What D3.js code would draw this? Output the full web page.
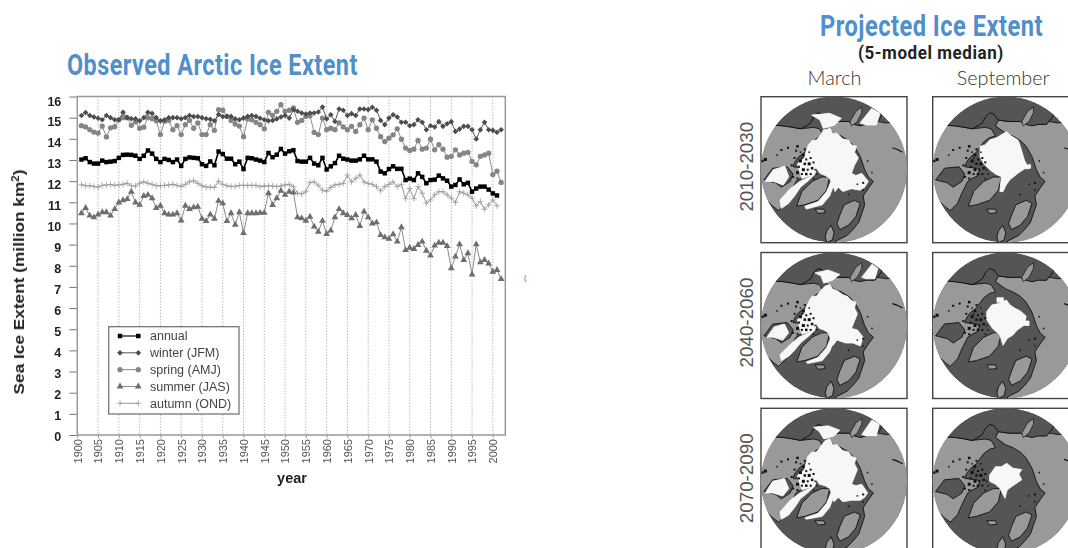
<!DOCTYPE html>
<html>
<head>
<meta charset="utf-8">
<script src="https://cdnjs.cloudflare.com/ajax/libs/d3/7.8.5/d3.min.js"></script>
<style>
    body { margin: 0; background: #fff; overflow: hidden; }
    svg { display: block; }
    text { font-family: "Liberation Sans", Arial, sans-serif; }
</style>
</head>
<body>
<div id="chart"></div>
<script>
// yearly values, all series start in 1901
const firstYear = 1901;
const annual = [13.02,13.08,12.9,12.83,12.83,12.97,12.9,12.92,12.95,
    13.1,13.24,13.25,13.24,13.2,13.05,13.2,13.45,13.3,13.05,
    12.9,13.05,13.0,12.9,13.02,12.72,13.05,13.12,13.1,13.08,
    12.8,12.72,12.93,12.75,13.4,13.28,13.06,13.06,12.8,12.92,
    12.57,13.1,13.08,13.02,12.97,12.9,13.33,13.13,13.25,13.52,
    13.3,13.41,13.46,12.95,12.92,12.92,13.1,12.83,12.75,13.1,
    12.55,12.7,12.85,13.2,13.06,13.02,12.97,12.97,13.03,13.2,
    13.03,13.03,12.92,12.45,12.37,12.57,12.7,12.58,12.58,12.05,
    12.12,12.05,12.37,12.2,11.9,12.05,12.07,12.26,12.13,12.02,
    11.74,11.82,12.08,11.85,11.92,11.5,11.65,11.74,11.74,11.6,
    11.42,11.32];
const winter = [15.1,15.24,15.1,15.03,14.97,14.9,15.1,15.0,14.9,
    14.9,15.25,15.0,14.95,14.95,14.85,15.0,15.25,15.2,15.0,
    14.85,14.9,15.0,15.0,15.0,14.95,15.0,15.1,15.05,15.05,
    15.0,14.95,14.92,14.85,15.15,15.05,15.06,15.06,14.94,14.9,
    14.98,15.06,15.1,15.06,14.97,14.9,14.85,14.87,14.94,15.03,
    15.1,14.98,15.38,15.3,15.22,15.17,15.22,15.22,15.27,15.5,
    14.94,15.14,14.82,15.41,15.35,15.1,15.19,15.1,15.41,15.41,
    15.38,15.49,15.35,14.87,14.67,14.98,15.14,15.03,14.78,14.78,
    14.62,14.67,14.9,14.78,14.43,14.62,14.56,14.81,14.59,14.71,
    14.81,14.35,14.46,14.59,14.59,14.43,13.99,14.43,14.78,14.43,
    14.4,14.31,14.43];
const spring = [14.62,14.56,14.43,14.32,14.27,14.6,14.09,14.52,14.57,
    14.9,15.0,15.0,14.64,14.8,14.5,14.55,15.0,14.95,14.85,
    14.2,14.83,14.87,14.43,14.62,14.2,14.67,14.87,14.5,14.75,
    14.2,14.2,14.67,14.4,15.38,15.35,15.06,14.87,14.7,14.6,
    14.1,14.94,14.9,14.78,14.67,14.47,15.25,15.11,15.3,15.61,
    15.3,15.35,15.46,14.78,14.87,15.06,15.09,14.3,14.2,14.98,
    14.43,14.5,14.43,14.75,14.56,14.43,14.59,14.35,14.67,14.98,
    14.43,14.9,14.5,14.1,13.87,14.03,14.19,14.47,13.98,13.56,
    13.45,13.51,13.92,13.51,13.56,13.98,13.48,13.72,13.51,13.13,
    13.17,13.48,13.24,13.32,13.36,12.93,12.77,13.17,13.24,13.32,
    12.31,12.47,11.94];
const summer = [10.48,10.73,10.37,10.29,10.42,10.53,10.53,10.37,10.68,
    10.99,11.1,11.15,11.5,10.99,10.88,11.3,11.35,11.19,10.73,
    10.84,10.48,10.42,10.42,10.48,10.14,10.84,10.68,10.76,10.79,
    10.22,10.11,10.42,10.22,11.07,10.95,10.11,10.48,9.94,10.53,
    9.55,10.48,10.48,10.48,10.5,10.5,11.43,10.87,11.19,11.54,
    11.35,11.5,11.46,10.29,10.24,10.13,10.32,9.85,9.61,10.12,
    9.5,9.66,10.29,10.68,10.48,10.4,10.24,10.4,9.88,10.56,
    10.29,10.0,10.05,9.45,9.34,9.27,9.49,9.14,9.82,8.74,
    8.85,8.79,8.98,9.14,8.71,8.48,8.95,9.09,9.09,8.93,
    7.88,8.43,9.01,8.27,8.59,7.59,9.01,8.16,8.27,8.11,
    7.72,7.8,7.37];
const autumn = [11.83,11.78,11.78,11.75,11.72,11.8,11.82,11.84,11.8,
    11.82,11.85,11.9,11.78,11.77,11.9,11.97,11.9,11.85,11.78,
    11.78,11.8,11.82,11.85,11.8,11.75,11.85,11.97,12.02,11.9,
    11.78,11.72,11.72,11.7,12.0,11.85,11.78,11.75,11.75,11.8,
    11.8,11.8,11.8,11.8,11.74,11.77,11.77,11.77,11.74,11.77,
    11.82,11.85,11.74,11.43,11.4,11.5,11.93,11.96,11.8,11.57,
    11.52,11.7,11.82,11.85,11.89,12.29,11.96,12.13,12.29,11.96,
    11.89,11.85,11.74,11.54,11.74,11.85,11.96,11.74,11.85,11.17,
    11.65,11.17,11.74,11.43,10.96,11.11,11.35,11.5,11.5,11.35,
    11.2,10.99,11.5,11.43,11.35,11.2,10.83,11.04,10.67,10.88,
    11.11,10.83];

const seriesNames = ["annual", "winter (JFM)", "spring (AMJ)", "summer (JAS)", "autumn (OND)"];
const yTicks = d3.range(0, 17);
const xTicks = d3.range(1900, 2001, 5);

// map outlines, in percent of a map panel (across, down)
const rowLabels = ["2010-2030", "2040-2060", "2070-2090"];
const columnLabels = ["March", "September"];
const seaTop = [[-5,19],[9,19.5],[15,20],[22,21],[27,22],[31,20],[34,18],[36,14],[39,11],[42,12],[45,16],[52,17],[60,17],[64,19],[68,20],[72,19],[78,19],[82,14],[85,8],[80,-5],[-5,-5]];
const landAmerica = [[-5,19],[9,19.5],[17,20],[27,22],[36,21],[40,22],[43,27],[39,28],[35,31],[32,35],[30,38],[26,41],[23,45],[22,48],[30,49],[32,50],[31,54],[27,56],[24,58],[22,62],[20,66],[17,73],[12,78],[8,75],[5,72],[-5,68]];
const landEurasia = [[43,20],[45,16],[52,17],[60,17],[64,18],[72,18],[80,17],[86,18],[105,15],[105,105],[55,105],[51,99],[59,95],[63,91],[67,86],[71,74],[70,68],[74,62],[77,58],[73.5,55],[71,50],[68,41],[64,34],[60,30],[55,27],[50,25]];
const landGreenland = [[24.4,75],[28,65],[35,58],[41.5,55],[47,55],[45,64],[39,71],[30,74]];
const landScandinavia = [[57,74],[64,71],[68,73],[65,82],[60,88],[54,91],[52,87],[54,81]];
const landKamchatka = [[61,17],[65,10],[69,7],[69,11],[66,17],[62,20]];
const landIceland = [[37,77],[43,77],[44,79.5],[39,80]];
const landBritain = [[45,92],[48,88],[50,93],[49,98],[45,100],[44,96]];
const hudsonBay = [[8,49],[18,48],[22,53],[20,58],[14,62],[10,59],[2,57]];
// across, down, size of the small islands and coast specks
const islandBits = [[24,37,2],[27,38,1.5],[30,36,2],[33,38,1.5],[29,40,2.5],[31,43,2],[34,42,2],[27,44,3],[30,46,2.5],[33,46,3],[36,45,2],[26,48,2],[29,50,3],[32,50,2],[35,49,2.5],[25,52,3],[28,53,2],[31,53,2.5],[34,53,2],[37,50,1.5],[22,55,2],[25,56,2],[28,42,1.5],[23,42,2],[21,47,2],[38,53,1.5],[36,56,1.5],[14,36.5,2],[18.5,35,2],[25,34,2.5],[11,40,1.5],[3,43,3],[1,44,2.5],[73,44,1.5],[76,52,1.5],[70,59,2],[66,60,1.5],[60,67,1.5],[70,64,1.5]];
const coastMark = [[90,35],[93,36],[97,38]];

const iceMarch2010 = [
    [[42.7,22.8],[41,26],[38,29.7],[35,30],[32.4,33],[31,37],[30,41],[33,44],[36,45.7],[38,49],[40.4,52.5],[44,54],[47,56],[49,60],[50.7,65],[53,62],[56,65],[62,63],[67.8,64],[71,62],[73.5,58],[71,55],[69,52.5],[65,54],[62,52.5],[64,47],[66.7,42],[64,38],[65.5,34],[62,33],[60,29.7],[56,29],[52,25],[49,25],[47.3,21.7]],
    [[34.7,12.6],[47,11.4],[55,14.8],[50.5,19.4],[42.7,21.7],[40.4,16]],
    [[67.8,18],[75.8,8],[81.5,11.4],[79,19.4],[72,19.4]],
    [[2.7,58],[8.4,50],[16.4,47.5],[19,54.8],[15.3,60.5],[8.4,58]],
    [[14,76.5],[13,70.8],[20,63],[26.7,58],[37,53],[33,57],[27,62],[23,68],[19,73]],
    [[48,58],[50,60],[47,68],[42,74],[31,77],[30,75],[39,72],[45,65]],
    [[25,46],[32,40],[38,46],[37,53],[28,56]]
];
const iceMarch2040 = [
    [[44,23],[41,26],[38,30],[35,30],[33,33],[31,37],[30,41],[33,44],[36,45],[38,49],[40,52],[43,53],[46,55],[48,60],[49,64],[52,60],[58,62],[63,62],[68,64],[70,58],[66,53],[62,52],[64,47],[66,42],[64,38],[65,34],[62,33],[59,30],[56,29],[52,26],[49,25],[47,22]],
    [[37,14],[46,12],[54,15],[49,19],[43,21],[41,16]],
    [[69,17],[76,8],[80,11],[78,18],[72,18]],
    [[4,58],[9,51],[16,49],[19,55],[15,60],[8,58]],
    [[14,74],[13,70],[20,63],[26,58],[37,53],[33,57],[27,62],[23,67],[19,71]],
    [[48,58],[50,60],[47,68],[42,74],[32,76],[31,75],[39,72],[45,65]],
    [[25,46],[32,40],[38,46],[37,53],[28,56]]
];
const iceMarch2070 = [
    [[44,22],[41,26],[38,30],[35,30],[32,33],[31,37],[30,41],[33,44],[36,46],[38,49],[40,52],[44,53],[47,55],[49,60],[50,64],[53,61],[56,64],[62,63],[68,63],[71,61],[73,58],[71,55],[69,52],[65,53],[62,52],[64,47],[66,42],[64,38],[65,34],[62,33],[60,30],[56,29],[52,25],[49,25],[47,21]],
    [[36,13],[46,12],[54,15],[50,19],[43,21],[40,16]],
    [[69,18],[76,8],[81,11],[79,19],[72,19]],
    [[3,58],[8,50],[16,48],[19,55],[15,60],[8,58]],
    [[14,76],[13,71],[20,63],[26.7,58],[37,53],[33,57],[27,62],[23,68],[19,73]],
    [[48,58],[50,60],[47,68],[42,74],[31,76],[30,75],[39,72],[45,65]],
    [[25,46],[32,40],[38,46],[37,53],[28,56]]
];
const iceSept2010 = [[[32.4,34],[36,33],[39,29.7],[44,28],[50.5,24],[54,27],[58.4,29.7],[60,34],[61.8,40],[63,44],[65.3,48],[59,52],[52.7,57],[50,61],[48.2,65],[46,65],[47,54.8],[43,53],[39,50],[35,46],[32.4,41]],
    [[64,47],[67,46.5],[67,49],[64,49.5]]];
const iceSept2040 = [[[37,40.5],[40.4,36],[45,35],[50.5,32.6],[53,36],[56,38],[60,40],[64,43.6],[62.8,49.7],[58,53],[54.8,56.6],[51,59],[48.2,63.5],[46,56.6],[41,52],[37,46]],
    [[44,31],[48.4,31],[48.4,34],[44,34]], [[63,47],[66,47],[66,50],[63,50]]];
const iceSept2070 = [[[39,45.7],[43,40],[47,40],[50.7,37.7],[55,41],[61,42],[59,45],[61,49],[54,53.7],[51,56],[49.5,61.6],[46,54.8],[43,52],[39,50]]];
const iceByPanel = [[iceMarch2010, iceSept2010], [iceMarch2040, iceSept2040], [iceMarch2070, iceSept2070]];

let svg = d3.select("#chart").append("svg").attr("width", 1068).attr("height", 548);

// condensed fonts are not installed, so squeeze the text to the wanted width
function fitText(text, x, y, size, width, color)
{
    let t = svg.append("text").attr("font-size", size).attr("font-weight", "bold")
        .style("font-family", "Roboto, sans-serif").style("letter-spacing", "0.6px")
        .attr("fill", color).text(text);
    let natural = t.node().getComputedTextLength();
    t.attr("transform", "translate(" + x + "," + y + ") scale(" + (width / natural) + ",1)");
}

// ------- left chart
let xScale = d3.scaleLinear().domain([1900, 2003]).range([77.3, 505.3]);
let yScale = d3.scaleLinear().domain([0, 16]).range([435, 96.5]);
let labelShift = d3.scaleLinear().domain([0, 16]).range([1, 4.5]);

fitText("Observed Arctic Ice Extent", 67, 75, 29, 291, "#4f8fcb");

let plot = svg.append("g").style("filter", "blur(0.45px)");

plot.append("g").selectAll("line").data(xTicks.slice(1)).enter().append("line")
    .attr("x1", d => xScale(d)).attr("x2", d => xScale(d))
    .attr("y1", yScale(16)).attr("y2", yScale(0))
    .attr("stroke", "#bbb").attr("stroke-width", 1).attr("stroke-dasharray", "1.5,1.5");

let yAxis = d3.axisLeft(yScale).tickValues(yTicks).tickSize(8).tickPadding(8).tickFormat(d3.format("d"));
let yG = plot.append("g").attr("transform", "translate(" + xScale.range()[0] + ",0)").call(yAxis);
yG.select(".domain").remove();
yG.selectAll("line").attr("stroke", "#777");
yG.selectAll("text").attr("font-size", 12.5).attr("font-weight", "bold").attr("fill", "#222")
    .attr("y", d => labelShift(d));

let xAxis = d3.axisBottom(xScale).tickValues(xTicks).tickSize(3).tickFormat(d3.format("d"));
let xG = plot.append("g").attr("transform", "translate(0," + yScale(0) + ")").call(xAxis);
xG.select(".domain").remove();
xG.selectAll("line").attr("stroke", "#999");
xG.selectAll("text").attr("font-size", 11).attr("fill", "#555")
    .attr("transform", "rotate(-90)").attr("text-anchor", "end")
    .attr("x", -4).attr("y", 0).attr("dy", "0.35em");

plot.append("rect").attr("x", xScale.range()[0]).attr("y", yScale(16))
    .attr("width", xScale.range()[1] - xScale.range()[0]).attr("height", yScale(0) - yScale(16))
    .attr("fill", "none").attr("stroke", "#999").attr("stroke-width", 1.5);

const seriesStyle = [
    {values: annual, symbol: d3.symbolSquare, size: 20, color: "#000", width: 1.6, fill: "#000"},
    {values: winter, symbol: d3.symbolDiamond2 || d3.symbolDiamond, size: 20, color: "#555", width: 1, fill: "#4d4d4d"},
    {values: spring, symbol: d3.symbolCircle, size: 22, color: "#8a8a8a", width: 1, fill: "#858585"},
    {values: summer, symbol: d3.symbolTriangle, size: 20, color: "#8a8a8a", width: 1, fill: "#6e6e6e"},
    {values: autumn, symbol: d3.symbolPlus, size: 14, color: "#9a9a9a", width: 1, fill: "none"}
];
let line = d3.line().x((d, i) => xScale(firstYear + i)).y(d => yScale(d));

// autumn and summer first so annual and winter end up on top
[4, 3, 2, 1, 0].forEach(function (k) {
    let s = seriesStyle[k];
    let g = plot.append("g");
    g.append("path").attr("d", line(s.values)).attr("fill", "none").attr("stroke", s.color).attr("stroke-width", s.width);
    g.selectAll("path.mark").data(s.values).enter().append("path").attr("class", "mark")
        .attr("d", d3.symbol().type(s.symbol).size(s.size))
        .attr("transform", (d, i) => "translate(" + xScale(firstYear + i) + "," + yScale(d) + ")")
        .attr("fill", s.fill).attr("stroke", s.fill == "none" ? s.color : "none").attr("stroke-width", 0.8);
});

plot.append("text").attr("x", 292).attr("y", 483).attr("text-anchor", "middle")
    .attr("font-size", 14.5).attr("font-weight", "bold").attr("fill", "#222").text("year");

let yTitle = plot.append("text").attr("transform", "translate(24,282) rotate(-90) scale(1.15,1)").attr("text-anchor", "middle")
    .attr("font-size", 15).attr("font-weight", "bold").attr("fill", "#222");
yTitle.append("tspan").text("Sea Ice Extent (million km");
yTitle.append("tspan").attr("font-size", 10).attr("dy", -5).text("2");
yTitle.append("tspan").attr("dy", 5).text(")");

// legend
let legendY = d3.scaleLinear().domain([0, 4]).range([336, 403.3]);
plot.append("rect").attr("x", 108.7).attr("y", 326.7).attr("width", 130.3).attr("height", 87.3)
    .attr("fill", "#fff").attr("stroke", "#777").attr("stroke-width", 1.3);
seriesNames.forEach(function (name, i) {
    let s = seriesStyle[i];
    let g = plot.append("g").attr("transform", "translate(0," + legendY(i) + ")");
    g.append("line").attr("x1", 120).attr("x2", 138.3).attr("stroke", s.color).attr("stroke-width", i == 0 ? 1.2 : s.width);
    [120, 138.3].forEach(function (x) {
        g.append("path").attr("d", d3.symbol().type(s.symbol).size(s.size))
            .attr("transform", "translate(" + x + ",0)")
            .attr("fill", s.fill).attr("stroke", s.fill == "none" ? s.color : "none").attr("stroke-width", 0.8);
    });
    g.append("text").attr("x", 150).attr("y", 4.3).attr("font-size", 12.5).attr("fill", "#444").text(name);
});

svg.append("text").attr("x", 524).attr("y", 280).attr("font-size", 7).attr("fill", "#555").text("(");

// ------- right maps
fitText("Projected Ice Extent", 820, 36, 29, 223, "#4f8fcb");
fitText("(5-model median)", 858, 59, 18, 146, "#222");

let colScale = d3.scaleLinear().domain([0, 1]).range([761, 932.7]);
let rowScale = d3.scaleLinear().domain([0, 2]).range([96.7, 408.3]);
const panelSize = 146;
let unit = d3.scaleLinear().domain([0, 100]).range([0, panelSize]);
let outline = d3.line().x(d => unit(d[0])).y(d => unit(d[1])).curve(d3.curveLinearClosed);

svg.append("clipPath").attr("id", "globe").append("circle")
    .attr("cx", unit(50)).attr("cy", unit(50)).attr("r", unit(50));

columnLabels.forEach(function (label, c) {
    svg.append("text").attr("x", colScale(c) + (c == 0 ? 73.5 : 70.5)).attr("y", 85).attr("text-anchor", "middle")
        .style("font-family", "Lato, sans-serif").style("font-weight", 300).attr("font-size", 19.8).attr("fill", "#333").text(label);
});

rowLabels.forEach(function (label, r) {
    svg.append("text").attr("transform", "translate(752.5," + (rowScale(r) + 70) + ") rotate(-90)")
        .attr("text-anchor", "middle").attr("font-size", 18.8).attr("fill", "#555").text(label);

    columnLabels.forEach(function (name, c) {
        let g = svg.append("g").attr("transform", "translate(" + colScale(c) + "," + rowScale(r) + ")")
            .style("filter", "blur(0.35px)");
        g.append("rect").attr("width", panelSize).attr("height", panelSize)
            .attr("fill", "#fff").attr("stroke", "#444").attr("stroke-width", 1.4);
        let globe = g.append("g").attr("clip-path", "url(#globe)");
        globe.append("circle").attr("cx", unit(50)).attr("cy", unit(50)).attr("r", unit(50)).attr("fill", "#555");

        [landAmerica, landEurasia, landGreenland, landScandinavia, landIceland, landBritain].forEach(function (shape) {
            globe.append("path").attr("d", outline(shape)).attr("fill", "#999")
                .attr("stroke", "#111").attr("stroke-width", 0.9);
        });
        globe.append("path").attr("d", outline(hudsonBay)).attr("fill", "#555")
            .attr("stroke", "#111").attr("stroke-width", 0.9);
        globe.append("path").attr("d", outline(seaTop)).attr("fill", "#555")
            .attr("stroke", "#111").attr("stroke-width", 1);
        globe.append("path").attr("d", outline(landKamchatka)).attr("fill", "#999")
            .attr("stroke", "#111").attr("stroke-width", 0.7);

        iceByPanel[r][c].forEach(function (shape) {
            globe.append("path").attr("d", outline(shape)).attr("fill", "#f7f7f7")
                .attr("stroke", "#fff").attr("stroke-width", 0.8);
        });

        globe.selectAll("rect.bit").data(islandBits).enter().append("rect").attr("class", "bit")
            .attr("x", d => unit(d[0]) - d[2] / 2).attr("y", d => unit(d[1]) - d[2] / 2)
            .attr("width", d => d[2]).attr("height", d => d[2]).attr("fill", "#111");
        globe.append("path").attr("d", d3.line().x(d => unit(d[0])).y(d => unit(d[1]))(coastMark))
            .attr("fill", "none").attr("stroke", "#111").attr("stroke-width", 1.2);
    });
});
</script>
</body>
</html>
